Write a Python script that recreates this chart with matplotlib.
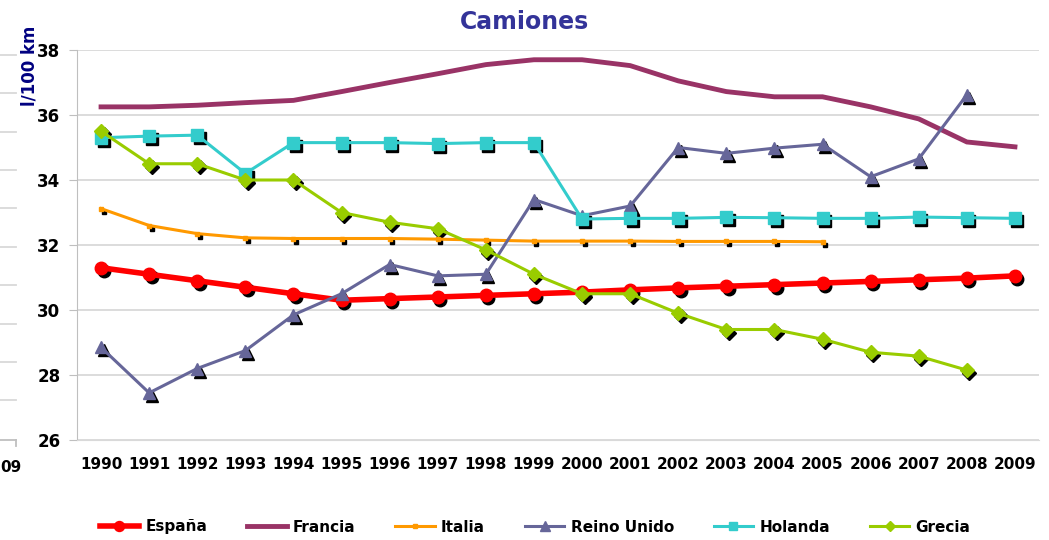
import matplotlib
matplotlib.use("Agg")
import matplotlib.pyplot as plt
import matplotlib.transforms as mtransforms
from matplotlib.lines import Line2D
import numpy as np

years = [str(y) for y in range(1990, 2010)]

espana = [31.3, 31.1, 30.9, 30.7, 30.5, 30.3, 30.35, 30.4, 30.45, 30.5,
          30.55, 30.62, 30.68, 30.73, 30.78, 30.83, 30.88, 30.93, 30.98, 31.05]
francia = [36.25, 36.25, 36.3, 36.38, 36.45, 36.72, 37.0, 37.27, 37.55, 37.7,
           37.7, 37.52, 37.05, 36.72, 36.56, 36.56, 36.25, 35.88, 35.17, 35.02]
italia = [33.12, 32.6, 32.35, 32.22, 32.2, 32.2, 32.2, 32.18, 32.15, 32.12,
          32.12, 32.12, 32.11, 32.11, 32.11, 32.1, None, None, None, None]
reino_unido = [28.85, 27.45, 28.2, 28.75, 29.85, 30.5, 31.4, 31.05, 31.1, 33.4,
               32.9, 33.2, 35.0, 34.82, 34.98, 35.1, 34.1, 34.65, 36.62, None]
holanda = [35.3, 35.35, 35.38, 34.2, 35.15, 35.15, 35.15, 35.12, 35.15, 35.15,
           32.8, 32.82, 32.82, 32.85, 32.84, 32.82, 32.82, 32.86, 32.84, 32.82]
grecia = [35.5, 34.5, 34.5, 34.0, 34.0, 33.0, 32.7, 32.5, 31.85, 31.1,
          30.5, 30.5, 29.9, 29.4, 29.4, 29.1, 28.7, 28.58, 28.15, None]

series = [
    ("España", espana, "#FF0000", "o", 9, 4.0),
    ("Francia", francia, "#993366", None, 0, 3.5),
    ("Italia", italia, "#FF9900", "s", 3, 2.2),
    ("Reino Unido", reino_unido, "#666699", "^", 9, 2.2),
    ("Holanda", holanda, "#33CCCC", "s", 8, 2.2),
    ("Grecia", grecia, "#99CC00", "D", 7, 2.2),
]

fig = plt.figure(figsize=(10.49, 5.40), dpi=100)
ax = fig.add_axes([77/1049, 1 - 440/540, (1039 - 77)/1049, (440 - 50)/540])

x = np.arange(len(years))
shadow = mtransforms.ScaledTranslation(2.5/100, -3/100, fig.dpi_scale_trans)
handles = []
for name, vals, col, mk, ms, lw in series:
    y = np.array([np.nan if v is None else v for v in vals], dtype=float)
    if mk is not None:
        ax.plot(x, y, linestyle="none", marker=mk, markersize=ms, color="black",
                markeredgecolor="black", transform=ax.transData + shadow, zorder=2)
    h, = ax.plot(x, y, color=col, lw=lw, marker=mk, markersize=ms,
                 markeredgecolor=col, solid_joinstyle="miter", zorder=3, label=name)
    handles.append(h)

ax.set_xlim(-0.5, len(years) - 0.5)
ax.set_ylim(26, 38)
ax.set_yticks(np.arange(26, 39, 2))
ax.set_xticks(x)
ax.set_xticklabels(years)
ax.yaxis.grid(True, color="#D9D9D9", lw=1.3)
ax.set_axisbelow(True)
for s in ["top", "right"]:
    ax.spines[s].set_visible(False)
ax.spines["left"].set_color("#BFBFBF")
ax.spines["bottom"].set_color("#D9D9D9")
ax.tick_params(axis="y", length=6, color="#BFBFBF", labelsize=12, pad=6)
ax.tick_params(axis="x", length=0, labelsize=11, pad=12)
for lab in ax.get_xticklabels() + ax.get_yticklabels():
    lab.set_fontweight("bold")

fig.text(0.5, 1 - 22/540, "Camiones", ha="center", va="center",
         fontsize=17, fontweight="bold", color="#333399")
fig.text(30/1049, 1 - 66/540, "l/100 km", ha="center", va="center", rotation=90,
         fontsize=12, fontweight="bold", color="#000080")

leg = fig.legend(handles=handles, loc="center", bbox_to_anchor=(535/1049, 1 - 527/540),
                 ncol=6, frameon=False, prop={"size": 11, "weight": "bold"},
                 handlelength=2.6, columnspacing=2.6, handletextpad=0.4,
                 markerscale=0.8)

# remnants of an adjacent chart on the left edge
for py in [55, 93, 132, 170, 208, 247, 285, 324, 362, 400]:
    fig.add_artist(Line2D([0, 16/1049], [1 - py/540, 1 - py/540], color="#D9D9D9", lw=1.3))
fig.add_artist(Line2D([0, 16/1049], [1 - 440/540, 1 - 440/540], color="#BFBFBF", lw=1.3))
fig.add_artist(Line2D([16/1049, 16/1049], [1 - 440/540, 1 - 446/540], color="#BFBFBF", lw=1.3))
fig.text(0, 1 - 467/540, "09", ha="left", va="center", fontsize=11, fontweight="bold")

fig.savefig("out.png", dpi=100)
